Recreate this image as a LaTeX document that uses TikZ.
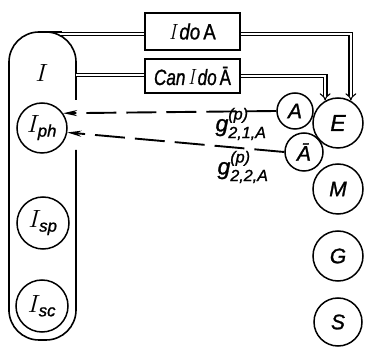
\documentclass[tikz,border=0pt]{standalone}
\usepackage{fontspec}
\setsansfont{Liberation Sans}
\usepackage{amsmath}
\usetikzlibrary{arrows.meta}
\newcommand{\heavy}{\addfontfeature{FakeBold=1.2}}
\begin{document}
\begin{tikzpicture}[x=1pt,y=-1pt, line width=1.5pt,
  circ/.style={circle, draw, line width=1.5pt, inner sep=0pt, font=\sffamily\itshape\fontsize{21}{21}\selectfont\heavy},
  icirc/.style={circ, font=\fontsize{24}{24}\selectfont},
  lbox/.style={draw, line width=1.5pt, minimum width=95pt, inner sep=0pt, font=\sffamily\fontsize{22}{22}\selectfont\heavy},
  dbl/.style={double, double distance=2.6pt, line width=1.1pt, -{Implies}},
  dblplain/.style={double, double distance=2.6pt, line width=1.1pt},
  dasharrow/.style={line width=1.9pt, dash pattern=on 30pt off 10pt, -{Stealth[length=14pt,width=6pt]}},
  glab/.style={inner sep=0pt, font=\sffamily\itshape\fontsize{23}{23}\selectfont\heavy}
]
\useasboundingbox (0,0) rectangle (367,347);

% the I group (stadium, right edge broken round I_ph)
\draw[line width=1.6pt, rounded corners=30pt] (76,100) -- (76,32) -- (9,32) -- (9,340) -- (76,340) -- (76,150);
\draw[line width=2.4pt] (9,62) -- (9,312);
\node[font=\rmfamily\itshape\fontsize{29}{29}\selectfont, inner sep=0pt] (I) at (42,73) {$I$};
\coordinate (Itop) at (60,34);
\coordinate (Iright) at (76,75);
\draw (40,32) -- (62,32);

\node[icirc, minimum size=50pt] (Iph) at (42,128) {$I_{\text{\sffamily\itshape\heavy ph}}$};
\node[icirc, minimum size=52pt] (Isp) at (43,223) {$I_{\text{\sffamily\itshape\heavy sp}}$};
\node[icirc, minimum size=52pt] (Isc) at (42,306) {$I_{\text{\sffamily\itshape\heavy sc}}$};

% boxes
\node[lbox, minimum height=37pt] (b1) at (192.5,31.5) {\scalebox{0.85}[1]{{\rmfamily\itshape I}\,\itshape do\,\upshape A}};
\node[lbox, minimum height=34pt] (b2) at (192.5,76) {\scalebox{0.78}[1]{\itshape Can\,{\rmfamily I}\,do\,\upshape Ā}};

% right column
\node[circ, minimum size=36pt] (A) at (295,111) {A};
\node[circ, minimum size=50pt, font=\sffamily\itshape\fontsize{23}{23}\selectfont\heavy] (E) at (338,123) {E};
\node[circ, minimum size=38pt] (Ab) at (304,152) {Ā};
\node[circ, minimum size=50pt] (M) at (338,189) {M};
\node[circ, minimum size=50pt] (G) at (338,256) {G};
\node[circ, minimum size=48pt] (S) at (338,322) {S};

% double connectors
\draw[dblplain] (Itop) -- (Itop -| b1.west);
\draw[dblplain] (Iright) -- (Iright -| b2.west);
\draw[dbl] (Itop -| b1.east) -| (E.60);
\draw[dbl] (b2.east) -| (E.120);

% dashed arrows
\draw[dasharrow] (A.west) -- (Iph.35);
\draw[dasharrow] (Ab.west) -- (Iph.-10);

\node[glab] (g1) at (241,124) {$\text{g}^{\text{(p)}}_{\text{2,1,A}}$};
\node[glab] (g2) at (243,167) {$\text{g}^{\text{(p)}}_{\text{2,2,A}}$};
\end{tikzpicture}
\end{document}
